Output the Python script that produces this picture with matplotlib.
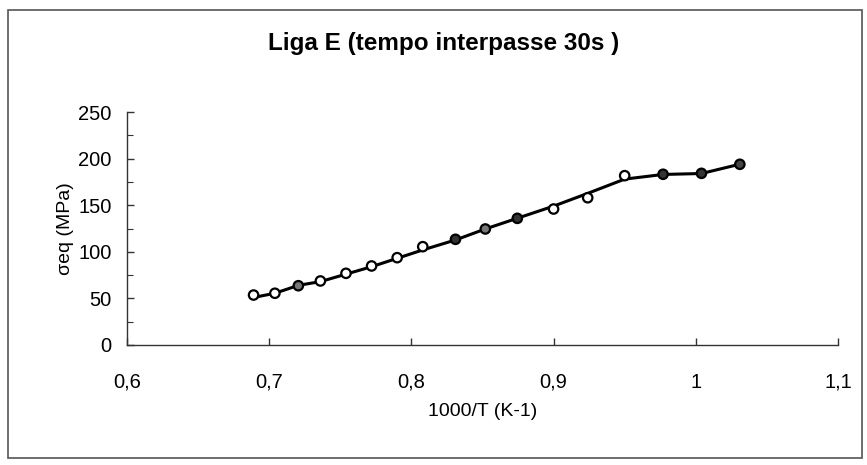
import matplotlib
matplotlib.use("Agg")
import matplotlib.pyplot as plt
from matplotlib.patches import Rectangle
from matplotlib.ticker import MultipleLocator

plt.rcParams['font.family'] = ['Liberation Sans', 'DejaVu Sans']

# 1000/T (K-1) and flow stress (MPa)
inv_t = [0.689, 0.704, 0.7205, 0.736, 0.754, 0.772, 0.790, 0.808,
         0.831, 0.852, 0.8745, 0.900, 0.924, 0.950, 0.977, 1.004, 1.031]
sigma = [53.6, 55.5, 63.6, 68.7, 76.9, 84.8, 93.7, 105.5,
         113.4, 124.5, 135.9, 145.9, 158.0, 181.7, 183.2, 184.2, 193.9]
# fitted curve through the same temperatures
sigma_fit = [51.0, 55.5, 64.0, 68.0, 76.0, 84.0, 93.0, 102.0,
             112.7, 124.5, 136.0, 149.0, 162.7, 178.0, 183.0, 184.0, 194.0]

x_ticks = [0.6, 0.7, 0.8, 0.9, 1.0, 1.1]
x_labels = ["0,6", "0,7", "0,8", "0,9", "1", "1,1"]
y_ticks = [0, 50, 100, 150, 200, 250]

# marker fill per point (open / dark / grey)
faces = ['white', 'white', '#777777', 'white', 'white', 'white', 'white', 'white',
         '#333333', '#777777', '#333333', 'white', 'white', 'white',
         '#333333', '#333333', '#444444']

fig = plt.figure(figsize=(8.67, 4.65), dpi=100)
fig.patches.append(Rectangle((0.009, 0.016), 0.985, 0.962, transform=fig.transFigure,
                             fill=False, edgecolor='#555555', linewidth=1.2))

ax = fig.add_axes([0.1465, 0.2581, 0.820, 0.501])
ax.plot(inv_t, sigma_fit, color='black', linewidth=2.2, zorder=2)
ax.scatter(inv_t, sigma, s=46, facecolors=faces, edgecolors='black',
           linewidths=1.6, zorder=3)

ax.set_xlim(0.6, 1.1)
ax.set_ylim(0, 250)
ax.set_xticks(x_ticks)
ax.set_xticklabels(x_labels)
ax.set_yticks(y_ticks)
ax.yaxis.set_minor_locator(MultipleLocator(25))

for side in ['top', 'right']:
    ax.spines[side].set_visible(False)
for side in ['left', 'bottom']:
    ax.spines[side].set_color('#333333')
    ax.spines[side].set_linewidth(1.0)

ax.tick_params(axis='both', direction='in', length=5, width=1, colors='#333333',
               labelcolor='black', labelsize=14.5)
ax.tick_params(axis='x', pad=20)
ax.tick_params(axis='y', pad=11)
ax.tick_params(axis='y', which='minor', direction='in', length=4, width=0.8, colors='#333333')

ax.set_xlabel("1000/T (K-1)", fontsize=14, labelpad=8)
ax.set_ylabel("σeq (MPa)", fontsize=14, labelpad=3)
fig.text(0.512, 0.907, "Liga E (tempo interpasse 30s )", ha='center', va='center',
         fontsize=17.5, fontweight='bold')

fig.savefig("out.png", dpi=100)
